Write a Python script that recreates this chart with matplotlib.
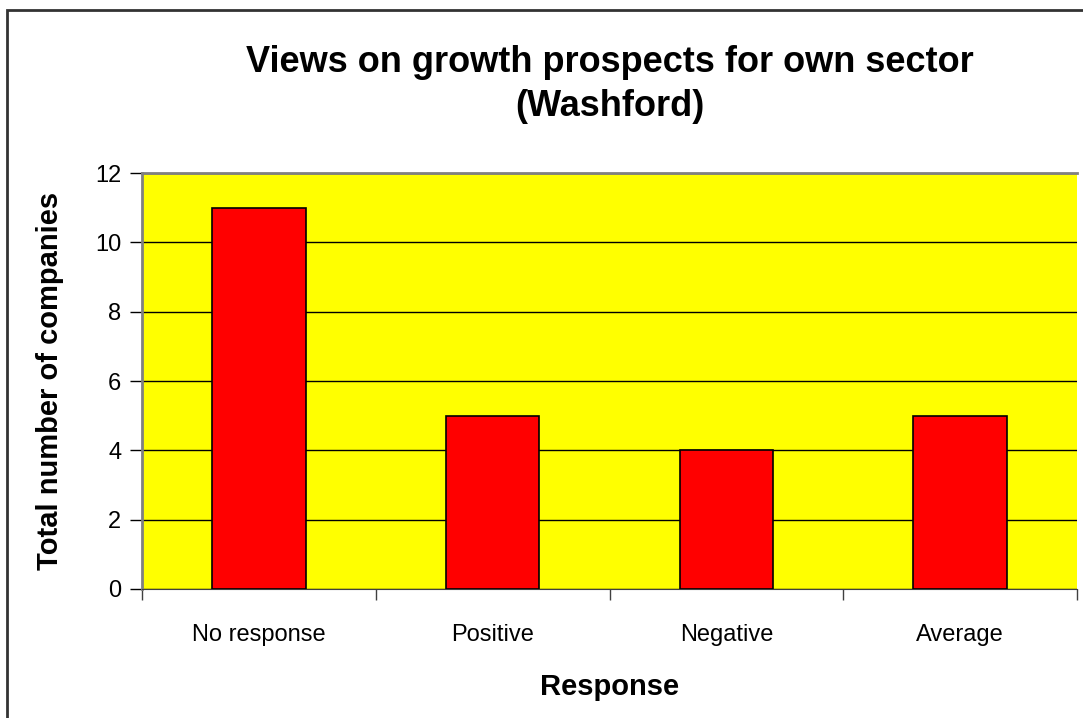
import matplotlib.pyplot as plt
from matplotlib.patches import Rectangle

categories = ["No response", "Positive", "Negative", "Average"]
counts = [11, 5, 4, 5]

plt.rcParams['font.family'] = ['Liberation Sans', 'DejaVu Sans']

fig = plt.figure(figsize=(10.83, 7.18), dpi=100)
ax = fig.add_axes([0.1311, 0.1797, 0.8634, 0.5793])

x = range(len(categories))
ax.bar(x, counts, width=0.4, color='#ff0000', edgecolor='black', linewidth=1.2, zorder=3)

ax.set_facecolor('#ffff00')
ax.set_xlim(-0.5, len(categories) - 0.5)
ax.set_ylim(0, 12)
ax.set_yticks(range(0, 13, 2))
ax.yaxis.grid(True, color='black', linewidth=1)
ax.set_axisbelow(True)

# ticks between categories, labels centred under bars
ax.set_xticks([i - 0.5 for i in range(len(categories) + 1)])
ax.set_xticklabels([])
ax.set_xticks(list(x), minor=True)
ax.set_xticklabels(categories, minor=True)
ax.tick_params(axis='x', which='minor', length=0, pad=25, labelsize=17)
ax.tick_params(axis='x', which='major', length=8, width=1, color='#404040')
ax.tick_params(axis='y', length=9, width=1, pad=6, labelsize=17)

for s in ['left', 'top']:
    ax.spines[s].set_color('#808080')
    ax.spines[s].set_linewidth(2)
ax.spines['bottom'].set_color('#404040')
ax.spines['right'].set_visible(False)

ax.set_xlabel('Response', fontsize=21, fontweight='bold', labelpad=20)
ax.set_ylabel('Total number of companies', fontsize=21, fontweight='bold', labelpad=22)

fig.text(0.563, 0.882, 'Views on growth prospects for own sector\n(Washford)',
         ha='center', va='center', fontsize=26, fontweight='bold', linespacing=1.32)

# outer chart border (left and top visible, runs off right/bottom)
fig.patches.append(Rectangle((0.0065, -0.05), 1.1, 1.0354, transform=fig.transFigure,
                             fill=False, edgecolor='#333333', linewidth=2))

fig.savefig('out.png', dpi=100)
